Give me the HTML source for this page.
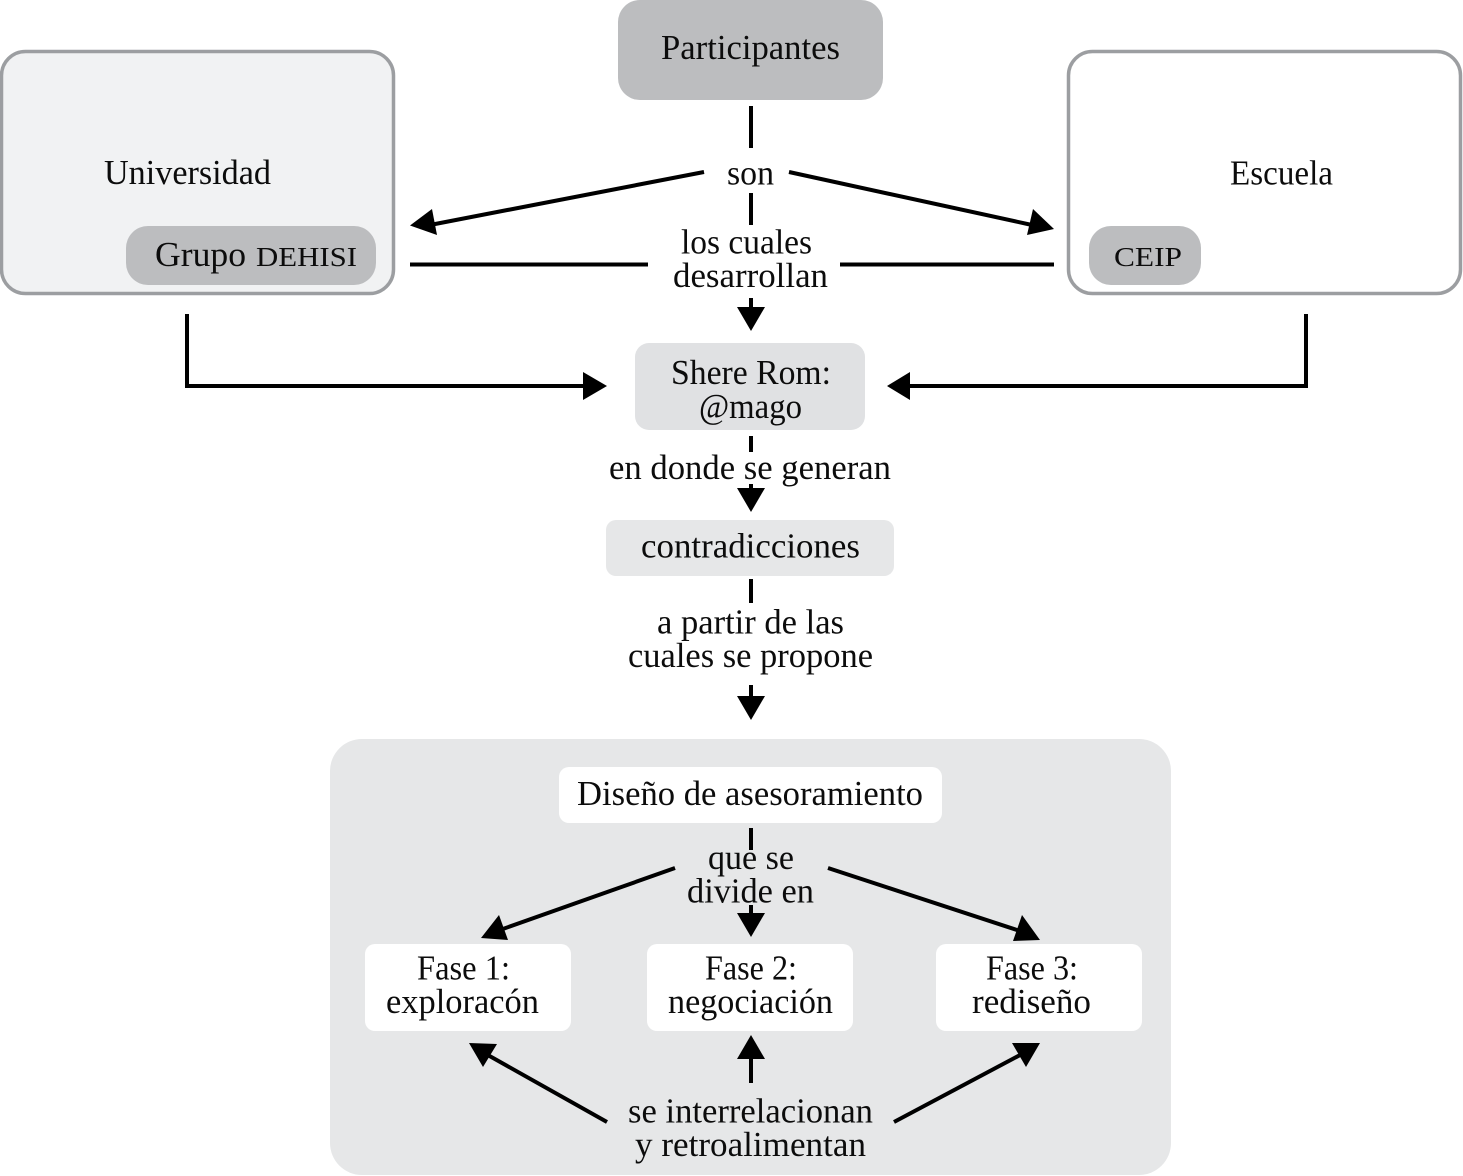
<!DOCTYPE html>
<html><head><meta charset="utf-8"><style>
html,body{margin:0;padding:0;background:#fff}
svg{display:block}
text{font-family:"Liberation Serif",serif;font-size:35px;fill:#0c0c0c;text-anchor:start}
text.sc{font-size:27px}
</style></head><body>
<svg width="1463" height="1176" viewBox="0 0 1463 1176" xmlns="http://www.w3.org/2000/svg">
<rect x="618" y="0" width="265" height="100" rx="22" fill="#bcbdbf"/>
<rect x="1.500" y="51.500" width="392" height="242" rx="24" fill="#f1f2f3" stroke="#9c9ea1" stroke-width="3.500"/>
<rect x="1068.500" y="51.500" width="392" height="242" rx="24" fill="#fff" stroke="#9c9ea1" stroke-width="3.500"/>
<rect x="126" y="226" width="250" height="59" rx="22" fill="#bcbdbf"/>
<rect x="1089" y="226" width="112" height="59" rx="22" fill="#bcbdbf"/>
<rect x="635" y="343" width="230" height="87" rx="14" fill="#e0e1e3"/>
<rect x="606" y="520" width="288" height="56" rx="10" fill="#e6e7e8"/>
<rect x="330" y="739" width="841" height="436" rx="32" fill="#e6e7e8"/>
<rect x="559" y="767" width="383" height="56" rx="10" fill="#fff"/>
<rect x="365" y="944" width="206" height="87" rx="10" fill="#fff"/>
<rect x="647" y="944" width="206" height="87" rx="10" fill="#fff"/>
<rect x="936" y="944" width="206" height="87" rx="10" fill="#fff"/>

<g stroke="#000" stroke-width="4" fill="none">
<path d="M751 106V148"/>
<path d="M751 193V225"/>
<path d="M751 298V308"/>
<path d="M704 172L430 225"/>
<path d="M789 172L1032 225"/>
<path d="M410 264.500H648"/>
<path d="M840 264.500H1054"/>
<path d="M187 314V386H585"/>
<path d="M1306 314V386H910"/>
<path d="M751 436V452"/>
<path d="M751 484V490"/>
<path d="M751 579V603"/>
<path d="M751 685V698"/>
<path d="M751 828V850"/>
<path d="M751 905V915"/>
<path d="M675 868L500 930"/>
<path d="M828 868L1020 931"/>
<path d="M607 1122L486 1054"/>
<path d="M751 1083V1057"/>
<path d="M894 1122L1022 1054"/>
</g>
<g fill="#000">
<polygon points="410,225.500 432,209 437,235"/>
<polygon points="1054,229 1027,235 1033,209"/>
<polygon points="751,331 737,307 765,307"/>
<polygon points="607,386 583,372 583,400"/>
<polygon points="887,386 910,372 910,400"/>
<polygon points="751,512 737,488 765,488"/>
<polygon points="751,720 737,696 765,696"/>
<polygon points="751,937 737,913 765,913"/>
<polygon points="481,938 499,915 508,940"/>
<polygon points="1040,940 1013,941 1022,915"/>
<polygon points="469,1043 497,1044 483,1067"/>
<polygon points="751,1035 737,1059 765,1059"/>
<polygon points="1040,1043 1026,1067 1012,1043"/>
</g>

<g transform="translate(0,1)">
<text x="661" y="58" textLength="179" lengthAdjust="spacingAndGlyphs">Participantes</text>
<text x="104" y="183" textLength="167" lengthAdjust="spacingAndGlyphs">Universidad</text>
<text x="1230" y="183.500" textLength="103" lengthAdjust="spacingAndGlyphs">Escuela</text>
<text x="155" y="265" textLength="91" lengthAdjust="spacingAndGlyphs">Grupo</text>
<text class="sc" x="256" y="265" textLength="101" lengthAdjust="spacingAndGlyphs">DEHISI</text>
<text class="sc" x="1114" y="265" textLength="68" lengthAdjust="spacingAndGlyphs">CEIP</text>
<text x="727" y="183.500" textLength="47" lengthAdjust="spacingAndGlyphs">son</text>
<text x="681" y="252.500" textLength="131" lengthAdjust="spacingAndGlyphs">los cuales</text>
<text x="673" y="286" textLength="155" lengthAdjust="spacingAndGlyphs">desarrollan</text>
<text x="671" y="383" textLength="160" lengthAdjust="spacingAndGlyphs">Shere Rom:</text>
<text x="699" y="417" textLength="103" lengthAdjust="spacingAndGlyphs">@mago</text>
<text x="609" y="478" textLength="282" lengthAdjust="spacingAndGlyphs">en donde se generan</text>
<text x="641" y="556.500" textLength="219" lengthAdjust="spacingAndGlyphs">contradicciones</text>
<text x="657" y="632.500" textLength="187" lengthAdjust="spacingAndGlyphs">a partir de las</text>
<text x="628" y="666" textLength="245" lengthAdjust="spacingAndGlyphs">cuales se propone</text>
<text x="577" y="804" textLength="346" lengthAdjust="spacingAndGlyphs">Diseño de asesoramiento</text>
<text x="708" y="868" textLength="86" lengthAdjust="spacingAndGlyphs">que se</text>
<text x="687" y="901.500" textLength="127" lengthAdjust="spacingAndGlyphs">divide en</text>
<text x="417" y="978.500" textLength="93" lengthAdjust="spacingAndGlyphs">Fase 1:</text>
<text x="386" y="1012" textLength="153" lengthAdjust="spacingAndGlyphs">exploracón</text>
<text x="705" y="978.500" textLength="92" lengthAdjust="spacingAndGlyphs">Fase 2:</text>
<text x="668" y="1012" textLength="165" lengthAdjust="spacingAndGlyphs">negociación</text>
<text x="986" y="978.500" textLength="92" lengthAdjust="spacingAndGlyphs">Fase 3:</text>
<text x="972" y="1012" textLength="119" lengthAdjust="spacingAndGlyphs">rediseño</text>
<text x="628" y="1121.500" textLength="245" lengthAdjust="spacingAndGlyphs">se interrelacionan</text>
<text x="635" y="1155" textLength="231" lengthAdjust="spacingAndGlyphs">y retroalimentan</text>
</g>
</svg>
</body></html>
